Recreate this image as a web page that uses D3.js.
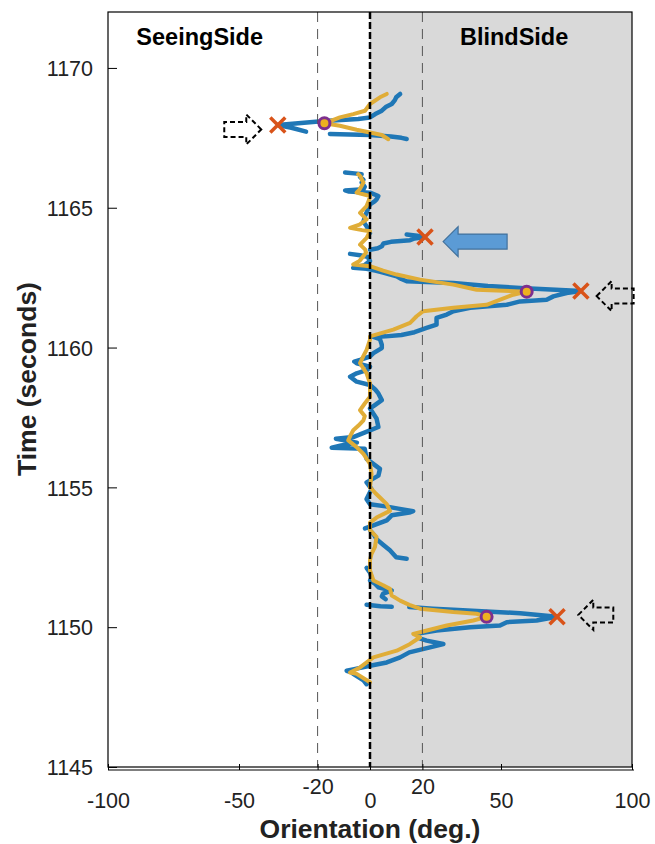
<!DOCTYPE html>
<html>
<head>
<meta charset="utf-8">
<script src="https://cdn.jsdelivr.net/npm/d3@7"></script>
<style>
  body { margin: 0; background: #fff; }
  svg { display: block; font-family: "Liberation Sans", Arial, sans-serif; }
</style>
</head>
<body>
<svg id="chart" width="655" height="844"></svg>
<script>
// ---- data: [time (s), orientation (deg)] ----
const blueSegments = [
  [[1169.07,11.5],[1168.95,10],[1168.85,9.5],[1168.71,8.3],[1168.6,6],[1168.47,4.5],[1168.35,2],[1168.23,0],[1168.17,-4.5],[1168.1,-17.4],[1167.96,-35.2],[1167.86,-30],[1167.72,-24.4]],
  [[1167.64,-15.3],[1167.6,0],[1167.55,8],[1167.5,12],[1167.46,14]],
  [[1166.26,-9.5],[1166.22,-5],[1166.2,-3.2],[1166.1,-3.8],[1166.0,-2.5],[1165.9,-3.2],[1165.75,-2],[1165.66,-2.5],[1165.62,-9.5],[1165.58,-8],[1165.54,0],[1165.42,3.2],[1165.3,2.5],[1165.24,1.9],[1165.12,0],[1164.9,-1],[1164.7,-1.9],[1164.5,-2.5],[1164.34,-1.3],[1164.1,0]],
  [[1164.04,14],[1164.0,18],[1163.95,21],[1163.9,17],[1163.84,15.3],[1163.78,8],[1163.72,5.1],[1163.62,4.5],[1163.55,3],[1163.5,0]],
  [[1163.35,-7.6],[1163.3,-3.8],[1163.25,-1],[1163.1,0],[1162.95,-2],[1162.85,-6.4],[1162.82,-1.3],[1162.75,2],[1162.68,5],[1162.55,10.2],[1162.45,12],[1162.37,14],[1162.31,31.8],[1162.2,45],[1162.13,57.3],[1162.02,80.5],[1161.95,75],[1161.83,70],[1161.71,67.4],[1161.65,57.3],[1161.53,52.2],[1161.42,38.2],[1161.3,31.8],[1161.18,29.3],[1161.06,25.4],[1160.82,25.4],[1160.7,21.6],[1160.55,17],[1160.45,12],[1160.4,6],[1160.38,1.3],[1160.3,3.8],[1160.1,4.5],[1159.98,4.5],[1159.8,1.3],[1159.68,0],[1159.56,-3.8],[1159.5,-6],[1159.44,-5.1],[1159.32,0],[1159.2,-1],[1159.08,-5.1],[1158.96,-7.6],[1158.78,-5.1],[1158.66,0],[1158.5,2],[1158.36,3.2],[1158.12,4.5],[1157.95,2],[1157.82,0],[1157.46,2.5],[1157.16,3.2],[1157.04,0],[1156.8,-6.4],[1156.74,-13],[1156.6,-5],[1156.5,-11],[1156.42,-14.6],[1156.38,-2],[1156.02,-1.3],[1155.66,3.8],[1155.42,3.2],[1155.18,-1.3],[1154.94,0.6],[1154.58,-1.3],[1154.4,0],[1154.32,6],[1154.24,10.8],[1154.15,16.5],[1154.1,15],[1154.0,8.3],[1153.82,6.4],[1153.64,1.3],[1153.53,-1.9]],
  [[1153.47,0],[1153.3,1.5],[1153.15,2.5],[1152.95,5],[1152.75,7.6],[1152.5,10],[1152.45,14]],
  [[1152.12,-1.3],[1151.95,0],[1151.8,0.5]],
  [[1151.67,0],[1151.55,2],[1151.43,3.2],[1151.31,8.3],[1151.2,5],[1151.1,4.5],[1151.0,6]],
  [[1150.8,-1.3],[1150.75,4],[1150.73,8.3]],
  [[1150.72,15],[1150.66,24],[1150.62,31.8],[1150.5,57.3],[1150.37,71.4],[1150.24,63.6],[1150.18,52.2],[1150.06,49.6],[1150.0,38.2],[1149.88,25.4],[1149.76,17.8],[1149.6,19],[1149.52,21.6],[1149.4,28],[1149.28,22.9],[1149.1,15],[1148.92,11.5],[1148.74,6.4],[1148.62,0],[1148.5,-6],[1148.44,-8.9],[1148.38,-7],[1148.33,-6.4],[1148.1,-2.5],[1147.96,-1.3]]
];

const yellowSegments = [
  [[1169.07,6.4],[1168.95,3.8],[1168.71,0],[1168.47,-1.9],[1168.35,-6.4],[1168.23,-11.5],[1168.02,-17.4],[1167.93,-11.5],[1167.79,-5.1],[1167.69,0],[1167.6,4.5],[1167.45,7]],
  [[1166.2,-4.5],[1166.1,-3.5],[1166.02,-3.2],[1165.9,-2.5],[1165.78,-3.2],[1165.65,-4],[1165.54,-5.1],[1165.42,0],[1165.25,-0.5],[1165.06,-1.3],[1164.82,-3.8],[1164.7,-2.5],[1164.58,-1.3],[1164.4,-4],[1164.28,-7.6],[1164.2,-3],[1164.16,0],[1163.92,-1.3],[1163.68,-3.8],[1163.51,-1.9],[1163.4,-1.5],[1163.27,-2.5],[1163.1,-4],[1162.97,-6.4],[1162.91,0],[1162.75,5],[1162.61,10.2],[1162.43,19.1],[1162.25,31.8],[1162.07,40.7],[1162.0,59.8],[1161.89,54.7],[1161.53,44.5],[1161.42,31.8],[1161.3,20.3],[1161.12,17.8],[1160.88,15.3],[1160.64,8.9],[1160.4,0],[1160.28,0],[1159.92,-1.3],[1159.7,-2.5],[1159.44,-3.8],[1159.25,-2.5],[1159.08,-1.3],[1158.72,0],[1158.24,0],[1158.0,-2],[1157.76,-3.8],[1157.55,-2],[1157.4,-2.5],[1157.2,-4.5],[1157.04,-6.4],[1156.85,-7.5],[1156.68,-8.3],[1156.44,-5.1],[1156.2,-2.5],[1155.84,0],[1155.48,0.6],[1155.0,0],[1154.8,2],[1154.64,3.8],[1154.4,6.4],[1154.16,7.6],[1153.92,2.5],[1153.74,0],[1153.47,0],[1153.23,2.5],[1152.87,1.9],[1152.6,0.5],[1152.39,0],[1152.03,0],[1151.67,1.3],[1151.5,5],[1151.37,7.6],[1151.13,8.3],[1150.95,11.5],[1150.8,15],[1150.66,19.1],[1150.54,31.8],[1150.48,40.7],[1150.37,44.5],[1150.24,39.4],[1150.06,29.3],[1149.82,19.1],[1149.76,16.5],[1149.64,19.1],[1149.4,15.3],[1149.16,10.2],[1148.92,1.3],[1148.56,-3.8],[1148.38,-7.6],[1148.33,-5.1],[1148.03,0]]
];

const crossMarks = [[1167.96,-35.2],[1163.95,21],[1162.02,80.5],[1150.37,71.4]];
const circleMarks = [[1168.02,-17.4],[1162.0,59.8],[1150.37,44.5]];
// arrows: [time, tip orientation, direction (+1 right, -1 left), body length px]
const dashedArrows = [[1167.8,-41.5,1,22],[1161.84,86.5,-1,22],[1150.44,79.5,-1,20]];
const solidArrows = [[1163.79,27.9,-1,49]];

const xTicks = [-100,-50,-20,0,20,50,100];
const raisedTicks = [-20,20];
const yTicks = [1145,1150,1155,1160,1165,1170];
const refLines = [-20,20];
const sideLabels = [["SeeingSide",-65],["BlindSide",55]];

// ---- layout ----
const svg = d3.select("#chart");
const L = 108, R = 632, T = 12, B = 767;
const x = d3.scaleLinear().domain([-100,100]).range([L,R]);
const y = d3.scaleLinear().domain([1145,1172]).range([B,T]);

// shaded blind side
svg.append("rect").attr("x", x(0)).attr("y", T).attr("width", x(100)-x(0)).attr("height", B-T).attr("fill", "#d9d9d9");

// side labels
svg.selectAll("text.side").data(sideLabels).join("text")
  .attr("x", d => x(d[1])).attr("y", 45).attr("text-anchor","middle")
  .attr("font-size", 23.5).attr("font-weight","bold").attr("fill","#000").text(d => d[0]);

const line = d3.line().x(d => x(d[1])).y(d => y(d[0]));

svg.append("g").selectAll("path").data(blueSegments).join("path")
  .attr("d", line).attr("fill","none").attr("stroke","#1f77b6").attr("stroke-width",4.5)
  .attr("stroke-linejoin","round").attr("stroke-linecap","round");

svg.append("g").selectAll("path").data(yellowSegments).join("path")
  .attr("d", line).attr("fill","none").attr("stroke","#e0ad38").attr("stroke-width",4)
  .attr("stroke-linejoin","round").attr("stroke-linecap","round");

// reference lines
svg.append("g").selectAll("line").data(refLines).join("line")
  .attr("x1", d => x(d)).attr("x2", d => x(d)).attr("y1", T).attr("y2", B)
  .attr("stroke","#555").attr("stroke-width",1).attr("stroke-dasharray","10,7");
svg.append("line").attr("x1", x(0)).attr("x2", x(0)).attr("y1", T).attr("y2", B)
  .attr("stroke","#000").attr("stroke-width",2.5).attr("stroke-dasharray","7,3");

// markers
const cs = 7.5;
const cross = svg.append("g").selectAll("g").data(crossMarks).join("g")
  .attr("transform", d => `translate(${x(d[1])},${y(d[0])})`);
cross.append("path").attr("d", `M${-cs},${-cs}L${cs},${cs}M${-cs},${cs}L${cs},${-cs}`)
  .attr("stroke","#d95319").attr("stroke-width",3.5).attr("fill","none");

svg.append("g").selectAll("circle").data(circleMarks).join("circle")
  .attr("cx", d => x(d[1])).attr("cy", d => y(d[0])).attr("r", 5.5)
  .attr("fill","#edb120").attr("stroke","#7e2f8e").attr("stroke-width",3);

// arrows
function arrowPath(tx, ty, dir, bodyLen, headLen, headHalf, bodyHalf) {
  const hb = tx - dir*headLen, be = hb - dir*bodyLen;
  return `M${tx},${ty}L${hb},${ty-headHalf}L${hb},${ty-bodyHalf}L${be},${ty-bodyHalf}L${be},${ty+bodyHalf}L${hb},${ty+bodyHalf}L${hb},${ty+headHalf}Z`;
}
svg.append("g").selectAll("path").data(dashedArrows).join("path")
  .attr("d", d => arrowPath(x(d[1]), y(d[0]), d[2], d[3], 15, 15, 7.5))
  .attr("fill","none").attr("stroke","#000").attr("stroke-width",2).attr("stroke-dasharray","5,3");
svg.append("g").selectAll("path").data(solidArrows).join("path")
  .attr("d", d => arrowPath(x(d[1]), y(d[0]), d[2], d[3], 15, 15, 7.5))
  .attr("fill","#5b9bd5").attr("stroke","#41719c").attr("stroke-width",1.2);

// frame
svg.append("rect").attr("x", L).attr("y", T).attr("width", R-L).attr("height", B-T)
  .attr("fill","none").attr("stroke","#000").attr("stroke-width",1.2);
svg.append("line").attr("x1", L).attr("x2", R+2).attr("y1", B+3).attr("y2", B+3)
  .attr("stroke","#000").attr("stroke-width",1.2);

// y axis
const yAxis = d3.axisLeft(y).tickValues(yTicks).tickSize(-9).tickPadding(14).tickFormat(d => String(d));
const gy = svg.append("g").attr("transform", `translate(${L},0)`).call(yAxis);
gy.select(".domain").remove();
gy.selectAll(".tick line").attr("stroke","#000");
gy.selectAll(".tick text").attr("font-size",21.5).attr("fill","#222")
  .attr("font-family","'Liberation Sans', Arial, sans-serif").attr("dy","0.36em").attr("x",-15);

// x axis
const xAxis = d3.axisBottom(x).tickValues(xTicks).tickSize(-6).tickPadding(0).tickFormat(d => String(d));
const gx = svg.append("g").attr("transform", `translate(0,${B+3})`).call(xAxis);
gx.select(".domain").remove();
gx.selectAll(".tick line").attr("stroke","#000");
gx.selectAll(".tick text").attr("font-size",21.5).attr("fill","#222")
  .attr("font-family","'Liberation Sans', Arial, sans-serif")
  .attr("y", d => raisedTicks.includes(d) ? 24 : 38).attr("dy", 0);

// axis titles
svg.append("text").attr("x", x(0)).attr("y", 838).attr("text-anchor","middle")
  .attr("font-size",26.5).attr("font-weight","bold").attr("fill","#222").text("Orientation (deg.)");
svg.append("text").attr("transform", `translate(36,379) rotate(-90)`).attr("text-anchor","middle")
  .attr("font-size",26.5).attr("font-weight","bold").attr("fill","#222").text("Time (seconds)");
</script>
</body>
</html>
